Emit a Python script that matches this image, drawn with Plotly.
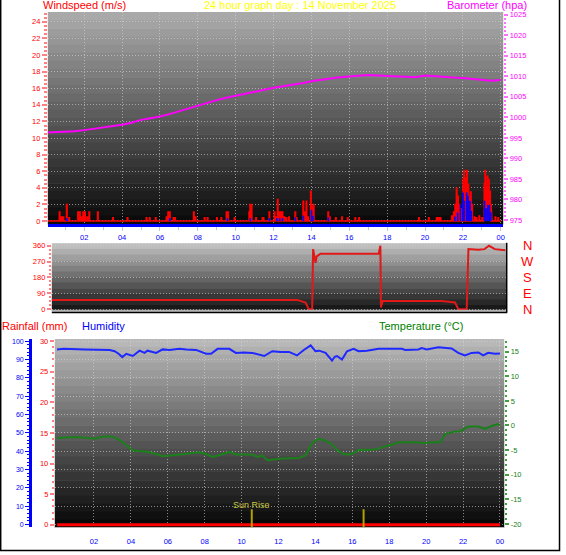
import plotly.graph_objects as go

W, H = 566, 555


def px(x):
    return x / W


def py(y):
    return 1 - y / H


FONT = "Liberation Sans, Arial, sans-serif"
GRID = "rgba(215,215,215,0.6)"
GDASH = "1px,2px"

# ---------------- data ----------------
hour_ticks = [2, 4, 6, 8, 10, 12, 14, 16, 18, 20, 22, 24]
hour_labels = ["02", "04", "06", "08", "10", "12", "14", "16", "18", "20", "22", "00"]

baro_hours = [0, 0.5, 1, 1.5, 2, 2.5, 3, 3.5, 4, 4.5, 5, 5.5, 6, 6.5, 7, 7.5, 8, 8.5,
              9, 9.5, 10, 10.5, 11, 11.5, 12, 12.5, 13, 13.5, 14, 14.5, 15, 15.5, 16,
              16.5, 17, 17.5, 18, 18.5, 19, 19.5, 20, 20.5, 21, 21.5, 22, 22.5, 23, 23.5, 24]
baro_hpa = [996.3, 996.4, 996.5, 996.6, 996.9, 997.2, 997.5, 997.8, 998.2, 998.7, 999.4,
            999.8, 1000.2, 1000.8, 1001.5, 1002.2, 1002.9, 1003.6, 1004.2, 1004.8, 1005.3,
            1005.8, 1006.3, 1006.8, 1007.2, 1007.6, 1007.9, 1008.3, 1008.8, 1009.2, 1009.5,
            1009.8, 1010.0, 1010.1, 1010.3, 1010.2, 1010.1, 1010.1, 1010.0, 1009.8, 1010.2,
            1010.0, 1009.9, 1009.7, 1009.6, 1009.4, 1009.1, 1008.9, 1009.1]

gust_hours = [0.68, 0.78, 0.88, 1.06, 1.19, 1.66, 1.75, 1.84, 1.93, 2.02, 2.14, 2.25, 2.7,
              3.5, 4.27, 5.27, 5.44, 5.76, 6.33, 6.42, 6.5, 6.7, 6.78, 7.77, 7.86, 8.34,
              8.5, 8.99, 9.22, 9.5, 9.58, 9.92, 10.7, 10.75, 10.82, 11.06, 11.4, 11.45,
              11.76, 12.03, 12.1, 12.2, 12.27, 12.35, 12.45, 12.55, 12.66, 12.8, 13.13,
              13.2, 13.55, 13.63, 13.72, 13.8, 13.95, 14.0, 14.1, 14.87, 14.95, 15.27,
              15.6, 15.9, 16.3, 16.5, 19.66, 20.18, 20.6, 20.7, 20.8, 21.4, 21.5, 21.58,
              21.65, 21.72, 21.8, 21.9, 22.0, 22.05, 22.1, 22.15, 22.2, 22.27, 22.33, 22.4,
              22.47, 22.6, 22.7, 22.85, 23.0, 23.12, 23.16, 23.22, 23.28, 23.35, 23.42,
              23.5, 23.7, 23.85]
gust_ms = [1.1, 0.5, 0.5, 2.0, 0.4, 1.1, 1.1, 0.5, 1.1, 1.1, 0.5, 1.1, 1.1,
           0.4, 0.4, 0.4, 0.4, 0.4, 0.5, 1.1, 1.1, 0.4, 0.4, 1.1, 0.5, 0.4,
           0.4, 0.4, 0.4, 1.1, 1.1, 0.4, 1.1, 2.0, 2.0, 0.4, 0.4, 0.4,
           1.1, 1.1, 0.5, 2.6, 1.1, 1.1, 1.1, 0.5, 0.4, 0.5, 1.1,
           0.4, 2.4, 1.1, 2.4, 0.5, 3.6, 1.8, 2.0, 1.1, 0.5, 0.4,
           0.5, 0.4, 0.4, 0.4, 0.4, 0.4, 0.4, 0.4, 0.4, 0.6, 1.1, 2.0,
           4.0, 3.0, 2.0, 1.5, 5.0, 6.1, 4.4, 5.2, 6.1, 4.4, 3.0, 3.5,
           2.0, 0.5, 0.4, 0.6, 0.4, 4.5, 6.1, 4.0, 5.4, 5.0, 3.6,
           2.0, 0.5, 0.4]

avg_hours = [1.06, 6.5, 9.55, 10.75, 11.76, 12.15, 12.3, 12.45, 13.13, 13.55, 13.98, 14.05,
             14.87, 21.55, 21.7, 21.85, 21.98, 22.05, 22.18, 22.25, 22.35, 22.42, 23.12,
             23.2, 23.3, 23.38, 23.45]
avg_ms = [0.3, 0.3, 0.3, 0.3, 0.3, 0.3, 0.3, 0.3, 0.4, 0.6, 1.3, 0.6,
          0.4, 0.5, 1.0, 2.0, 3.4, 2.4, 3.4, 3.0, 2.4, 1.2, 2.4,
          1.5, 1.9, 1.9, 1.0]

dir_hours = [0, 12.99, 13.43, 13.6, 13.78, 13.83, 13.96, 14.02, 14.22, 17.3, 17.39, 17.42,
             17.51, 20.64, 21.34, 21.52, 21.96, 22.05, 22.57, 22.9, 23.14, 23.45, 24.0]
dir_deg = [53, 53, 38, 0, 0, 341, 263, 300, 315, 315, 360, 10,
           47, 47, 38, 0, 0, 341, 337, 341, 360, 341, 334]
compass_deg = [0, 90, 180, 270, 360]
compass_labels = ["N", "E", "S", "W", "N"]

hum_hours = [0, 0.35, 1.5, 2.85, 3.12, 3.35, 3.53, 3.75, 4.1, 4.3, 4.47, 4.74, 4.9, 5.37,
             5.72, 6.09, 6.63, 7.0, 7.53, 8.07, 8.34, 8.7, 9.33, 9.69, 10.1, 10.58, 10.95,
             11.22, 11.66, 12.1, 12.57, 13.0, 13.37, 13.74, 14.0, 14.2, 14.55, 14.9, 15.05,
             15.17, 15.44, 15.71, 16.07, 16.34, 16.79, 17.42, 18.68, 18.87, 19.58, 19.76,
             20.03, 20.66, 21.38, 21.74, 22.1, 22.46, 22.83, 23.09, 23.36, 23.73, 24.0]
hum_pct = [95.5, 95.8, 95.5, 95.2, 94.5, 93.0, 91.3, 93.1, 91.9, 93.5, 94.8, 93.6, 94.8, 93.6,
           95.5, 95.2, 95.8, 95.5, 95.2, 93.1, 93.1, 95.8, 95.8, 93.6, 93.8, 93.6, 92.7,
           91.9, 94.5, 94.1, 94.1, 92.2, 95.2, 97.7, 94.5, 94.8, 93.6, 89.4, 91.5,
           91.9, 90.0, 94.5, 95.8, 94.5, 94.8, 95.8, 95.8, 95.2, 95.5, 96.2,
           95.5, 96.6, 96.0, 93.6, 92.2, 93.6, 93.8, 92.2, 93.6, 93.1, 93.3]

temp_hours = [0, 1.05, 2.13, 2.3, 2.85, 3.2, 3.48, 3.83, 4.1, 4.47, 5.0, 5.37, 5.72, 6.26,
              6.98, 7.7, 8.07, 8.42, 8.78, 9.33, 9.69, 10.58, 10.85, 11.12, 11.4, 11.85,
              12.2, 13.11, 13.47, 13.82, 14.18, 14.55, 14.9, 15.26, 15.53, 15.81, 16.07,
              16.34, 16.7, 17.06, 17.42, 17.78, 18.14, 18.5, 19.22, 19.95, 20.3, 20.76,
              21.03, 21.57, 21.84, 22.28, 22.82, 23.19, 23.54, 23.9, 24.0]
temp_c = [-2.55, -2.35, -2.7, -2.35, -2.2, -2.55, -3.2, -4.2, -5.1, -5.2, -5.45, -5.8, -6.25,
          -6.05, -5.8, -5.45, -5.8, -6.4, -6.05, -5.37, -5.9, -5.9, -6.4, -6.1, -7.05, -6.9,
          -6.7, -6.58, -6.04, -3.56, -2.7, -3.1, -3.9, -5.2, -5.8, -5.9, -5.6,
          -5.0, -5.0, -4.95, -4.7, -4.2, -3.9, -3.4, -3.4, -3.57, -3.4, -3.4,
          -1.75, -1.2, -1.2, -0.2, -0.2, -0.7, -0.1, 0.3, 0.0]
temp_ticks = [-20, -15, -10, -5, 0, 5, 10, 15]
temp_tick_labels = ["-20", "-15", "-10", "-5", "0", "5", "10", "15"]

rain_hours = [0, 6, 12, 18, 24]
rain_mm = [0.0, 0.0, 0.0, 0.0, 0.0]

sun_hours = [10.55, 16.61]
sun_labels = ["Sun Rise", ""]


# ---------------- helpers ----------------
def spike_path(ts, vs, w):
    """Step outline of narrow spikes, joined along the zero baseline."""
    xs, ys = [0.0], [0.0]
    for t, v in zip(ts, vs):
        xs += [t, t, t + w, t + w]
        ys += [0, v, v, 0]
    xs.append(24.0)
    ys.append(0.0)
    return xs, ys


def spike_polys(ts, vs, w):
    """Separate closed rectangles for each spike (no baseline)."""
    xs, ys = [], []
    for t, v in zip(ts, vs):
        xs += [t, t, t + w, t + w, t, None]
        ys += [0, v, v, 0, 0, None]
    return xs, ys


def gradient(x0, x1, y0, y1, c_top, c_bot, n):
    out = []
    h = (y1 - y0) / n
    for i in range(n):
        f = (i + 0.5) / n
        c = round(c_top + (c_bot - c_top) * f)
        out.append(dict(type="rect", xref="paper", yref="paper",
                        x0=px(x0), x1=px(x1), y0=py(y0 + (i + 1) * h + 0.6), y1=py(y0 + i * h),
                        fillcolor=f"rgb({c},{c},{c})", line_width=0, layer="below"))
    return out


fig = go.Figure()

# ---- panel 1: wind + barometer ----
gx, gy = spike_path(gust_hours, gust_ms, 0.04)
fig.add_trace(go.Scatter(x=gx, y=gy, mode="lines", line=dict(color="#ff0000", width=1.3),
                         fill="tozeroy", fillcolor="#ff0000", xaxis="x", yaxis="y",
                         hoverinfo="skip", showlegend=False))
ax_, ay_ = spike_polys(avg_hours, avg_ms, 0.045)
fig.add_trace(go.Scatter(x=ax_, y=ay_, mode="lines", line=dict(color="#0000ff", width=0.8),
                         fill="toself", fillcolor="#0000ff", xaxis="x", yaxis="y",
                         hoverinfo="skip", showlegend=False))
fig.add_trace(go.Scatter(x=baro_hours, y=baro_hpa, mode="lines",
                         line=dict(color="#ff00ff", width=2), xaxis="x", yaxis="y2",
                         showlegend=False))

# ---- panel 2: wind direction ----
fig.add_trace(go.Scatter(x=dir_hours, y=dir_deg, mode="lines",
                         line=dict(color="#e01818", width=2), xaxis="x2", yaxis="y3",
                         showlegend=False))

# ---- panel 3: rain / humidity / temperature ----
fig.add_trace(go.Scatter(x=temp_hours, y=temp_c, mode="lines",
                         line=dict(color="#1a801a", width=2), xaxis="x3", yaxis="y6",
                         showlegend=False))
fig.add_trace(go.Scatter(x=hum_hours, y=hum_pct, mode="lines",
                         line=dict(color="#1e28ff", width=2), xaxis="x3", yaxis="y5",
                         showlegend=False))
fig.add_trace(go.Scatter(x=rain_hours, y=rain_mm, mode="lines",
                         line=dict(color="#ff0000", width=3), xaxis="x3", yaxis="y4",
                         showlegend=False))

tf = lambda c, s=7.5: dict(color=c, size=s, family=FONT)

shapes = []
shapes += gradient(48, 505, 10, 224, 172, 8, 26)
shapes += gradient(52, 508, 243.5, 311.5, 196, 18, 12)
shapes += gradient(55, 506, 340, 530, 188, 4, 24)
# panel 2 frame
shapes.append(dict(type="line", xref="paper", yref="paper", x0=px(52), x1=px(508),
                   y0=py(311.2), y1=py(311.2), line=dict(color="#b4b4b4", width=1.5)))
shapes.append(dict(type="line", xref="paper", yref="paper", x0=px(52), x1=px(509),
                   y0=py(313.3), y1=py(313.3), line=dict(color="#000000", width=1.5)))
shapes.append(dict(type="line", xref="paper", yref="paper", x0=px(508.5), x1=px(508.5),
                   y0=py(313.3), y1=py(243), line=dict(color="#000000", width=1.5)))
# outer frame
shapes.append(dict(type="rect", xref="paper", yref="paper", x0=px(0.7), x1=px(561.5),
                   y0=py(553.5), y1=py(-5), line=dict(color="#000000", width=1.5)))
# sunrise / sunset markers
for t in sun_hours:
    shapes.append(dict(type="line", xref="x3", yref="y4 domain", x0=t, x1=t,
                       y0=0, y1=0.095, line=dict(color="#b0a000", width=2)))

TS = 11
annotations = [
    dict(text="Windspeed (m/s)", x=px(41), y=py(3.5), xanchor="left", yanchor="middle",
         font=dict(color="#ff0000", size=TS, family=FONT)),
    dict(text="24 hour graph day : 14 November 2025", x=px(301), y=py(3.5), xanchor="center",
         yanchor="middle", font=dict(color="#ffff00", size=TS, family=FONT)),
    dict(text="Barometer (hpa)", x=px(447), y=py(3), xanchor="left", yanchor="middle",
         font=dict(color="#ff00ff", size=TS, family=FONT)),
    dict(text="Rainfall (mm)", x=px(0), y=py(327), xanchor="left", yanchor="middle",
         font=dict(color="#ff0000", size=TS, family=FONT)),
    dict(text="Humidity", x=px(80), y=py(327), xanchor="left", yanchor="middle",
         font=dict(color="#0000ff", size=TS, family=FONT)),
    dict(text="Temperature (°C)", x=px(378), y=py(327), xanchor="left", yanchor="middle",
         font=dict(color="#008000", size=TS, family=FONT)),
]
for d, lab in zip(compass_deg, compass_labels):
    annotations.append(dict(text=lab, x=px(529), xref="paper", y=d, yref="y3",
                            xanchor="center", yanchor="middle",
                            font=dict(color="#ff0000", size=13, family=FONT)))
for t, lab in zip(sun_hours, sun_labels):
    if lab:
        annotations.append(dict(text=lab, x=t, xref="x3", y=py(507.5), yref="paper",
                                xanchor="center", yanchor="middle",
                                font=dict(color="#c8c83c", size=9, family=FONT)))
for a in annotations:
    a.setdefault("xref", "paper")
    a.setdefault("yref", "paper")
    a["showarrow"] = False

fig.update_layout(
    width=W, height=H, margin=dict(l=0, r=0, t=0, b=0),
    paper_bgcolor="#ffffff", plot_bgcolor="rgba(0,0,0,0)",
    font=dict(family=FONT), showlegend=False,
    shapes=shapes, annotations=annotations,
    xaxis=dict(domain=[px(48), px(505)], range=[0.079, 24.13], anchor="y",
               tickmode="array", tickvals=hour_ticks, ticktext=hour_labels,
               tickfont=tf("#0000ff"), ticks="outside", ticklen=4, tickcolor="#c8c8c8",
               minor=dict(dtick=1, tick0=0, ticks="outside", ticklen=3, tickcolor="#c8c8c8"),
               showgrid=True, gridcolor=GRID, griddash=GDASH, zeroline=False,
               showline=True, linecolor="#0000ff", linewidth=2.5, fixedrange=True),
    yaxis=dict(domain=[py(224), py(10)], range=[-0.36, 25.2], anchor="x",
               dtick=2, tick0=0, tickfont=tf("#ff0000"), ticks="outside", ticklen=5,
               tickcolor="#ff8080", tickwidth=1.5,
               minor=dict(dtick=0.5, ticks="outside", ticklen=3, tickcolor="#ff8080", tickwidth=1.5),
               showgrid=True, gridcolor=GRID, griddash=GDASH, zeroline=False, showline=False),
    yaxis2=dict(overlaying="y", side="right", anchor="x", range=[974.03, 1025.7],
                dtick=5, tick0=975, tickfont=tf("#ff00ff"), ticks="outside", ticklen=4,
                tickcolor="#ff70ff", tickwidth=1.5,
                minor=dict(dtick=1, ticks="outside", ticklen=2, tickcolor="#ff70ff"),
                showgrid=False, zeroline=False, showline=False),
    xaxis2=dict(domain=[px(52), px(508)], range=[0, 24.05], anchor="y3",
                showticklabels=False, ticks="", showgrid=False, zeroline=False, showline=False),
    yaxis3=dict(domain=[py(311.5), py(243.5)], range=[-8.4, 374], anchor="x2",
                dtick=90, tick0=0, tickfont=tf("#ff0000"), ticks="outside", ticklen=4,
                tickcolor="#ff8080", tickwidth=1.5,
                minor=dict(dtick=22.5, ticks="outside", ticklen=2, tickcolor="#ff8080"),
                showgrid=True, gridcolor=GRID, griddash=GDASH, zeroline=False, showline=False),
    xaxis3=dict(domain=[px(55), px(506)], range=[-0.124, 24.23], anchor="y4",
                tickmode="array", tickvals=hour_ticks, ticktext=hour_labels,
                tickfont=tf("#0000ff"), ticks="", ticklabelstandoff=7,
                showgrid=True, gridcolor=GRID,
                griddash=GDASH, zeroline=False, showline=True, linecolor="#b8b8b8", linewidth=1),
    yaxis4=dict(domain=[py(530), py(340)], range=[-0.4, 30.34], anchor="x3",
                dtick=5, tick0=0, tickfont=tf("#ff0000"), ticks="outside", ticklen=4,
                tickcolor="#ff8080", tickwidth=1.5,
                minor=dict(dtick=1, ticks="outside", ticklen=2, tickcolor="#ff8080"),
                showgrid=False, zeroline=False, showline=False),
    yaxis5=dict(overlaying="y4", anchor="free", position=px(30), side="left",
                range=[-1.46, 101.2], dtick=10, tick0=0, tickfont=tf("#0000ff", 7),
                ticks="outside", ticklen=4, tickcolor="#0000ff",
                minor=dict(dtick=2, ticks="outside", ticklen=2, tickcolor="#0000ff"),
                showline=True, linecolor="#0000ff", linewidth=2.5,
                showgrid=True, gridcolor=GRID, griddash=GDASH, zeroline=False),
    yaxis6=dict(overlaying="y4", side="right", anchor="x3", range=[-20.66, 17.58],
                tickmode="array", tickvals=temp_ticks, ticktext=temp_tick_labels,
                tickfont=tf("#208020"), ticks="outside", ticklen=4, tickcolor="#40a040",
                tickwidth=1.5,
                minor=dict(dtick=1, ticks="outside", ticklen=2, tickcolor="#40a040"),
                showgrid=False, zeroline=False, showline=False),
)

fig.write_html("out.html", config={"displayModeBar": False},
               post_script="document.body.style.margin='0px';document.body.style.padding='0px';")
